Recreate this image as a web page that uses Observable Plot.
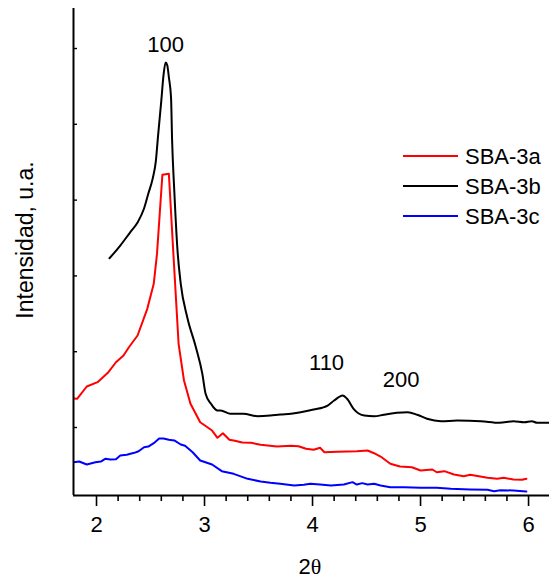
<!DOCTYPE html>
<html>
<head>
<meta charset="utf-8">
<script src="https://cdn.jsdelivr.net/npm/d3@7"></script>
<script src="https://cdn.jsdelivr.net/npm/@observablehq/plot@0.6"></script>
<style>
  html, body { margin: 0; padding: 0; background: #fff; }
  #chart { position: relative; width: 549px; height: 582px; }
</style>
</head>
<body>
<div id="chart"></div>
<script>
// ---- Data (2θ in degrees, intensity in arbitrary units) ----
const seriesNames = ["SBA-3a", "SBA-3b", "SBA-3c"];
const seriesColors = ["#ff0000", "#000000", "#0000ff"];

const theta_a = [1.79,1.82,1.91,2.01,2.11,2.18,2.25,2.30,2.38,2.47,2.53,2.56,2.61,2.67,2.71,2.76,2.81,2.87,2.96,3.07,3.12,3.17,3.23,3.27,3.35,3.43,3.52,3.67,3.80,3.87,3.94,4.01,4.07,4.11,4.23,4.32,4.41,4.51,4.57,4.63,4.72,4.81,4.92,5.00,5.11,5.15,5.22,5.31,5.40,5.46,5.62,5.71,5.77,5.86,5.94,5.98];
const int_a   = [1383,1379,1541,1598,1730,1861,1950,2059,2214,2566,2896,3290,4334,4347,3335,2104,1620,1313,1070,960,864,925,838,829,802,798,772,749,759,753,719,706,732,674,679,683,687,697,661,617,521,486,476,433,446,410,424,380,358,376,336,323,336,314,310,323];

const theta_b = [2.12,2.22,2.31,2.38,2.44,2.48,2.52,2.55,2.57,2.60,2.62,2.64,2.655,2.67,2.69,2.70,2.72,2.75,2.78,2.84,2.92,2.98,3.01,3.06,3.12,3.15,3.24,3.36,3.49,3.61,3.70,3.80,3.89,4.01,4.14,4.20,4.28,4.32,4.38,4.48,4.57,4.66,4.78,4.88,4.97,5.06,5.19,5.34,5.56,5.73,5.86,5.96,6.03,6.08,6.17,6.20];
const int_b   = [3233,3401,3572,3704,3889,4087,4284,4522,4852,5313,5643,5815,5780,5621,5353,4786,4126,3335,2896,2455,2059,1708,1445,1313,1224,1224,1181,1181,1149,1158,1172,1181,1202,1237,1290,1356,1422,1379,1247,1158,1149,1168,1194,1202,1168,1115,1083,1092,1083,1062,1083,1070,1083,1062,1062,1065];

const theta_c = [1.79,1.84,1.91,1.99,2.04,2.08,2.13,2.18,2.22,2.28,2.35,2.39,2.44,2.48,2.53,2.58,2.62,2.67,2.72,2.78,2.82,2.89,2.96,3.07,3.16,3.27,3.40,3.52,3.61,3.70,3.83,3.92,3.98,4.07,4.17,4.29,4.37,4.41,4.46,4.51,4.57,4.63,4.72,4.85,5.00,5.15,5.28,5.46,5.62,5.68,5.74,5.86,5.98];
const int_c   = [542,551,512,542,551,587,578,582,631,640,666,687,740,749,793,855,855,838,829,776,759,674,565,512,424,389,323,288,270,257,235,244,257,248,235,248,279,248,266,248,257,235,213,213,204,204,191,182,178,160,173,169,156];

const xMajorTicks = [2, 3, 4, 5, 6];
const xMinorTicks = [2.2,2.4,2.6,2.8,3.2,3.4,3.6,3.8,4.2,4.4,4.6,4.8,5.2,5.4,5.6,5.8];
const yTicks = [1000, 2000, 3000, 4000, 5000, 6000];
const xDomain = [1.787, 6.194];
const yDomain = [103, 6528];

const peakLabels = ["100", "110", "200"];
const peakTheta  = [2.64, 4.13, 4.82];
const peakInt    = [5950, 1760, 1530];

const xLabel = "2";
const xLabelGreek = "θ";
const yLabel = "Intensidad, u.a.";

// ---- build tables ----
const toRows = (xs, ys, name) => xs.map((x, j) => ({series: name, theta: x, intensity: ys[j]}));
const rowsA = toRows(theta_a, int_a, seriesNames[0]);
const rowsB = toRows(theta_b, int_b, seriesNames[1]);
const rowsC = toRows(theta_c, int_c, seriesNames[2]);
const peaks = peakLabels.map((t, i) => ({label: t, theta: peakTheta[i], intensity: peakInt[i]}));

const font = "'Liberation Sans', Arial, Helvetica, sans-serif";

const chart = Plot.plot({
  width: 549,
  height: 582,
  marginLeft: 73,
  marginRight: 0,
  marginTop: 8,
  marginBottom: 87,
  style: {fontFamily: font, fontSize: "22px", background: "white", color: "black", overflow: "visible"},
  x: {domain: xDomain, label: null},
  y: {domain: yDomain, axis: null, label: null},
  color: {domain: seriesNames, range: seriesColors},
  marks: [
    Plot.axisX({ticks: xMajorTicks, tickSize: 11, tickPadding: 10, tickFormat: d => String(d), label: null, strokeWidth: 1.6, fontSize: 22}),
    Plot.axisX({ticks: xMinorTicks, tickSize: 6, tickFormat: () => "", label: null, strokeWidth: 1.6}),
    Plot.ruleY(yTicks, {insetRight: 472, stroke: "black", strokeWidth: 1.4}),
    Plot.line(rowsA, {x: "theta", y: "intensity", stroke: "series", strokeWidth: 2, clip: true, curve: "linear"}),
    Plot.line(rowsB, {x: "theta", y: "intensity", stroke: "series", strokeWidth: 2, clip: true, curve: "monotone-x"}),
    Plot.line(rowsC, {x: "theta", y: "intensity", stroke: "series", strokeWidth: 2, clip: true, curve: "linear"}),
    Plot.ruleX([xDomain[0]], {stroke: "black", strokeWidth: 2}),
    Plot.ruleY([yDomain[0]], {stroke: "black", strokeWidth: 2}),
    Plot.text(peaks, {x: "theta", y: "intensity", text: "label", lineAnchor: "bottom", textAnchor: "middle", fontSize: 22, fill: "black"})
  ]
});

document.getElementById("chart").appendChild(chart);

// ---- axis titles and legend ----
const svg = d3.select(chart);

const xt = svg.append("text")
  .attr("x", 310).attr("y", 574)
  .attr("text-anchor", "middle")
  .attr("font-family", font).attr("font-size", 22).attr("fill", "black");
xt.append("tspan").text(xLabel);
xt.append("tspan").attr("font-family", "'Liberation Serif', 'DejaVu Serif', serif").text(xLabelGreek);

svg.append("text")
  .attr("transform", "translate(33,240) rotate(-90)")
  .attr("text-anchor", "middle")
  .attr("font-family", font).attr("font-size", 23).attr("fill", "black")
  .text(yLabel);

const leg = svg.append("g");
seriesNames.forEach((name, i) => {
  const y = 156 + i * 30;
  leg.append("line").attr("x1", 403).attr("x2", 458).attr("y1", y).attr("y2", y)
    .attr("stroke", seriesColors[i]).attr("stroke-width", 2);
  leg.append("text").attr("x", 465).attr("y", y).attr("dy", "0.35em")
    .attr("text-anchor", "start")
    .attr("font-family", font).attr("font-size", 22).attr("fill", "black")
    .text(name);
});
</script>
</body>
</html>
